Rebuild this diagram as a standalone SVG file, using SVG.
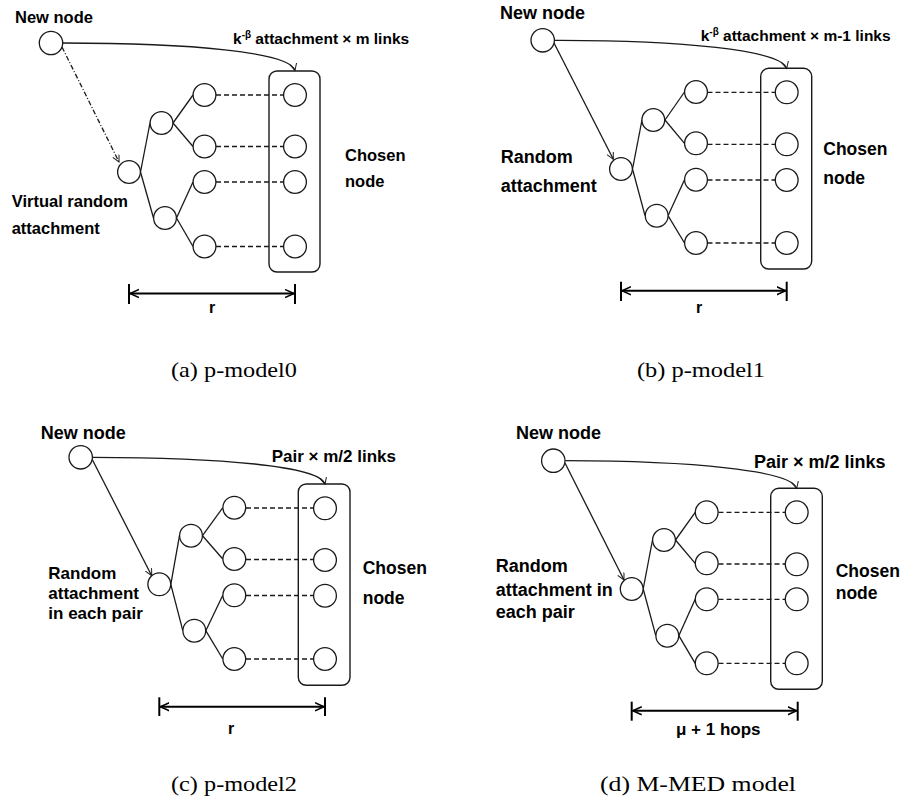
<svg xmlns="http://www.w3.org/2000/svg" width="901" height="799" viewBox="0 0 901 799">
<defs>
<style>
.nd{fill:#fff;stroke:#1a1a1a;stroke-width:1.3}
.box{fill:none;stroke:#1a1a1a;stroke-width:1.4}
.e{stroke:#1a1a1a;stroke-width:1.3;fill:none}
.dash{stroke:#1a1a1a;stroke-width:1.3;stroke-dasharray:5,3;fill:none}
.dim{stroke:#000;stroke-width:2;fill:none}
.tk{stroke:#000;stroke-width:2}
.lb{font-family:"Liberation Sans",Arial,sans-serif;font-weight:bold;fill:#000}
.cap{font-family:"Liberation Serif","Times New Roman",serif;font-size:22px;fill:#000}
</style>
<marker id="ah" markerWidth="10" markerHeight="10" refX="7" refY="3.5" orient="auto" markerUnits="userSpaceOnUse">
<path d="M0,0 L7,3.5 L0,7" fill="none" stroke="#1a1a1a" stroke-width="1"/>
</marker>
<marker id="dh" markerWidth="12" markerHeight="12" refX="9" refY="5" orient="auto-start-reverse" markerUnits="userSpaceOnUse">
<path d="M0,1 L9,5 L0,9" fill="none" stroke="#000" stroke-width="1.5"/>
</marker>
</defs>
<rect width="901" height="799" fill="#fff"/>

<!-- Panel (a) -->
<g id="panel-a">
<g id="a-connectors">
<path class="e" d="M63,43 C190,43 290,52 295,70.5" marker-end="url(#ah)"/>
<line class="e" x1="62" y1="47" x2="119" y2="162" stroke-dasharray="5,2,1,2" marker-end="url(#ah)"/>
<line class="e" x1="140.5" y1="172" x2="150" y2="123"/>
<line class="e" x1="140.5" y1="172" x2="153.5" y2="218"/>
<line class="e" x1="173" y1="123" x2="193" y2="95"/>
<line class="e" x1="173" y1="123" x2="193" y2="146.5"/>
<line class="e" x1="176.5" y1="218" x2="193" y2="182"/>
<line class="e" x1="176.5" y1="218" x2="193" y2="246.5"/>
<line class="dash" x1="216" y1="95" x2="283.5" y2="95"/>
<line class="dash" x1="216" y1="146.5" x2="283.5" y2="146.5"/>
<line class="dash" x1="216" y1="182" x2="283.5" y2="182"/>
<line class="dash" x1="216" y1="246.5" x2="283.5" y2="246.5"/>
<line class="tk" x1="129" y1="284" x2="129" y2="304"/>
<line class="tk" x1="295" y1="284" x2="295" y2="304"/>
<line class="dim" x1="130" y1="293.5" x2="294" y2="293.5" marker-start="url(#dh)" marker-end="url(#dh)"/>
</g>
<g id="a-new"><circle class="nd" cx="51" cy="43" r="11.7"/><text class="lb" x="15" y="23" font-size="16.5">New node</text></g>
<g id="a-chosen"><rect class="box" x="269" y="71" width="51" height="201" rx="8"/>
<circle class="nd" cx="295" cy="95" r="11.4"/><circle class="nd" cx="295" cy="146.5" r="11.4"/><circle class="nd" cx="295" cy="182" r="11.4"/><circle class="nd" cx="295" cy="246.5" r="11.4"/>
<text class="lb" x="345" y="160.7" font-size="16.5">Chosen</text><text class="lb" x="345" y="187" font-size="16.5">node</text></g>
<g id="a-tree">
<circle class="nd" cx="129" cy="172" r="11.4"/>
<circle class="nd" cx="161.5" cy="123" r="11.4"/><circle class="nd" cx="165" cy="218" r="11.4"/>
<circle class="nd" cx="204.5" cy="95" r="11.4"/><circle class="nd" cx="204.5" cy="146.5" r="11.4"/><circle class="nd" cx="204.5" cy="182" r="11.4"/><circle class="nd" cx="204.5" cy="246.5" r="11.4"/>
</g>
<text class="lb" x="233" y="44" font-size="15.5">k<tspan font-size="10" dy="-6">-β</tspan><tspan dy="6"> attachment × m links</tspan></text>
<text class="lb" x="11.7" y="207" font-size="16.5">Virtual random</text>
<text class="lb" x="11.7" y="234" font-size="16.5">attachment</text>
<text class="lb" x="209" y="313" font-size="16">r</text>
<text class="cap" x="171" y="377" textLength="126" lengthAdjust="spacingAndGlyphs">(a) p-model0</text>
</g>

<!-- Panel (b) -->
<g id="panel-b">
<g id="b-connectors">
<path class="e" d="M554.5,40.3 C680,40 782,50 786.7,68.5" marker-end="url(#ah)"/>
<line class="e" x1="554" y1="43" x2="613.3" y2="159.3" marker-end="url(#ah)"/>
<line class="e" x1="632.5" y1="169" x2="642" y2="120"/>
<line class="e" x1="632.5" y1="169" x2="645" y2="215.7"/>
<line class="e" x1="665" y1="120" x2="684.5" y2="92"/>
<line class="e" x1="665" y1="120" x2="684.5" y2="143.3"/>
<line class="e" x1="668" y1="215.7" x2="684.5" y2="179.7"/>
<line class="e" x1="668" y1="215.7" x2="684.5" y2="243"/>
<line class="dash" x1="707.5" y1="92.3" x2="775" y2="92.3"/>
<line class="dash" x1="707.5" y1="144.3" x2="775" y2="144.3"/>
<line class="dash" x1="707.5" y1="180" x2="775" y2="180"/>
<line class="dash" x1="707.5" y1="243" x2="775" y2="243"/>
<line class="tk" x1="621" y1="281.7" x2="621" y2="301"/>
<line class="tk" x1="786.7" y1="281.7" x2="786.7" y2="301"/>
<line class="dim" x1="622" y1="290.7" x2="785.7" y2="290.7" marker-start="url(#dh)" marker-end="url(#dh)"/>
</g>
<g id="b-new"><circle class="nd" cx="542.7" cy="40.3" r="11.7"/><text class="lb" x="500" y="19" font-size="18">New node</text></g>
<g id="b-chosen"><rect class="box" x="760.7" y="68.3" width="51" height="200.7" rx="8"/>
<circle class="nd" cx="786.7" cy="92.3" r="11.4"/><circle class="nd" cx="786.7" cy="144.3" r="11.4"/><circle class="nd" cx="786.7" cy="180" r="11.4"/><circle class="nd" cx="786.7" cy="243" r="11.4"/>
<text class="lb" x="823.3" y="155" font-size="17.5">Chosen</text><text class="lb" x="823.3" y="184.3" font-size="17.5">node</text></g>
<g id="b-tree">
<circle class="nd" cx="621" cy="169" r="11.4"/>
<circle class="nd" cx="653.3" cy="120" r="11.4"/><circle class="nd" cx="656.7" cy="215.7" r="11.4"/>
<circle class="nd" cx="696" cy="92" r="11.4"/><circle class="nd" cx="696" cy="143.3" r="11.4"/><circle class="nd" cx="696" cy="179.7" r="11.4"/><circle class="nd" cx="696" cy="243" r="11.4"/>
</g>
<text class="lb" x="700.7" y="41" font-size="15.5">k<tspan font-size="10" dy="-6">-β</tspan><tspan dy="6"> attachment × m-1 links</tspan></text>
<text class="lb" x="500.7" y="162.7" font-size="18">Random</text>
<text class="lb" x="500.7" y="192.3" font-size="18">attachment</text>
<text class="lb" x="696" y="313" font-size="16">r</text>
<text class="cap" x="637" y="377" textLength="128" lengthAdjust="spacingAndGlyphs">(b) p-model1</text>
</g>

<!-- Panel (c) -->
<g id="panel-c">
<g id="c-connectors">
<path class="e" d="M92.5,457.3 C220,457.5 320,466 325,484.2" marker-end="url(#ah)"/>
<line class="e" x1="92" y1="459" x2="151.7" y2="575.7" marker-end="url(#ah)"/>
<line class="e" x1="170.8" y1="584.3" x2="179.5" y2="535.7"/>
<line class="e" x1="170.8" y1="584.3" x2="182.8" y2="630.7"/>
<line class="e" x1="202.5" y1="535.7" x2="222.8" y2="507.7"/>
<line class="e" x1="202.5" y1="535.7" x2="222.8" y2="559"/>
<line class="e" x1="205.8" y1="630.7" x2="222.8" y2="595.3"/>
<line class="e" x1="205.8" y1="630.7" x2="222.8" y2="659"/>
<line class="dash" x1="246" y1="508" x2="313.5" y2="508"/>
<line class="dash" x1="246" y1="559.5" x2="313.5" y2="559.5"/>
<line class="dash" x1="246" y1="595.5" x2="313.5" y2="595.5"/>
<line class="dash" x1="246" y1="659" x2="313.5" y2="659"/>
<line class="tk" x1="159.3" y1="697.3" x2="159.3" y2="716"/>
<line class="tk" x1="325" y1="697.3" x2="325" y2="716"/>
<line class="dim" x1="160.3" y1="706.7" x2="324" y2="706.7" marker-start="url(#dh)" marker-end="url(#dh)"/>
</g>
<g id="c-new"><circle class="nd" cx="80.7" cy="457.3" r="11.7"/><text class="lb" x="40.7" y="439" font-size="18">New node</text></g>
<g id="c-chosen"><rect class="box" x="298.3" y="484" width="51.7" height="201.3" rx="8"/>
<circle class="nd" cx="325" cy="508.3" r="11.4"/><circle class="nd" cx="325" cy="560" r="11.4"/><circle class="nd" cx="325" cy="595.7" r="11.4"/><circle class="nd" cx="325" cy="659" r="11.4"/>
<text class="lb" x="362.7" y="574.3" font-size="17.5">Chosen</text><text class="lb" x="362.7" y="604" font-size="17.5">node</text></g>
<g id="c-tree">
<circle class="nd" cx="159.3" cy="584.3" r="11.4"/>
<circle class="nd" cx="191" cy="535.7" r="11.4"/><circle class="nd" cx="194.3" cy="630.7" r="11.4"/>
<circle class="nd" cx="234.3" cy="507.7" r="11.4"/><circle class="nd" cx="234.3" cy="559" r="11.4"/><circle class="nd" cx="234.3" cy="595.3" r="11.4"/><circle class="nd" cx="234.3" cy="659" r="11.4"/>
</g>
<text class="lb" x="271.7" y="461.7" font-size="17">Pair × m/2 links</text>
<text class="lb" x="48.3" y="579" font-size="17">Random</text>
<text class="lb" x="48.3" y="599.3" font-size="17">attachment</text>
<text class="lb" x="48.3" y="619.3" font-size="17">in each pair</text>
<text class="lb" x="228" y="734" font-size="16">r</text>
<text class="cap" x="171" y="791" textLength="126" lengthAdjust="spacingAndGlyphs">(c) p-model2</text>
</g>

<!-- Panel (d) -->
<g id="panel-d">
<g id="d-connectors">
<path class="e" d="M565.3,460.7 C690,461 792,470 796.7,488.5" marker-end="url(#ah)"/>
<line class="e" x1="565" y1="463" x2="624" y2="580" marker-end="url(#ah)"/>
<line class="e" x1="643.2" y1="589" x2="652.5" y2="540"/>
<line class="e" x1="643.2" y1="589" x2="655.8" y2="635.7"/>
<line class="e" x1="675.5" y1="540" x2="695.2" y2="512.3"/>
<line class="e" x1="675.5" y1="540" x2="695.2" y2="563.3"/>
<line class="e" x1="678.8" y1="635.7" x2="695.2" y2="599.3"/>
<line class="e" x1="678.8" y1="635.7" x2="695.2" y2="663.3"/>
<line class="dash" x1="718.5" y1="512.3" x2="785" y2="512.3"/>
<line class="dash" x1="718.5" y1="564" x2="785" y2="564"/>
<line class="dash" x1="718.5" y1="599.3" x2="785" y2="599.3"/>
<line class="dash" x1="718.5" y1="663.3" x2="785" y2="663.3"/>
<line class="tk" x1="631.7" y1="701.7" x2="631.7" y2="720.7"/>
<line class="tk" x1="797.7" y1="701.7" x2="797.7" y2="720.7"/>
<line class="dim" x1="632.7" y1="710.7" x2="796.7" y2="710.7" marker-start="url(#dh)" marker-end="url(#dh)"/>
</g>
<g id="d-new"><circle class="nd" cx="553.3" cy="460.7" r="11.7"/><text class="lb" x="516" y="439" font-size="18">New node</text></g>
<g id="d-chosen"><rect class="box" x="770.7" y="488.3" width="51.6" height="201" rx="8"/>
<circle class="nd" cx="796.7" cy="512.3" r="11.4"/><circle class="nd" cx="796.7" cy="564.3" r="11.4"/><circle class="nd" cx="796.7" cy="599.3" r="11.4"/><circle class="nd" cx="796.7" cy="663.3" r="11.4"/>
<text class="lb" x="835.7" y="576.7" font-size="17.5">Chosen</text><text class="lb" x="835.7" y="599.3" font-size="17.5">node</text></g>
<g id="d-tree">
<circle class="nd" cx="631.7" cy="589" r="11.4"/>
<circle class="nd" cx="664" cy="540" r="11.4"/><circle class="nd" cx="667.3" cy="635.7" r="11.4"/>
<circle class="nd" cx="706.7" cy="512.3" r="11.4"/><circle class="nd" cx="706.7" cy="563.3" r="11.4"/><circle class="nd" cx="706.7" cy="599.3" r="11.4"/><circle class="nd" cx="706.7" cy="663.3" r="11.4"/>
</g>
<text class="lb" x="754" y="468.3" font-size="18">Pair × m/2 links</text>
<text class="lb" x="495.7" y="572.3" font-size="18">Random</text>
<text class="lb" x="495.7" y="595.7" font-size="18">attachment in</text>
<text class="lb" x="495.7" y="618.3" font-size="18">each pair</text>
<text class="lb" x="676" y="735" font-size="17">μ + 1 hops</text>
<text class="cap" x="600" y="791" textLength="196" lengthAdjust="spacingAndGlyphs">(d) M-MED model</text>
</g>
</svg>
